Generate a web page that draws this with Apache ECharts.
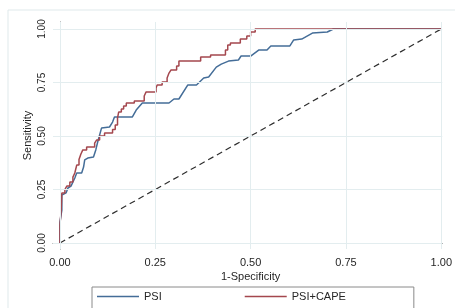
<!DOCTYPE html>
<html>
<head>
<meta charset="utf-8">
<script src="https://cdn.jsdelivr.net/npm/echarts@6/dist/echarts.min.js"></script>
<style>
  html, body { margin: 0; padding: 0; background: #fff; }
  #chart { width: 455px; height: 308px; }
</style>
</head>
<body>
<div id="chart"></div>
<script>
// tick values shared by both axes
var ticks = [0, 0.25, 0.5, 0.75, 1]

// PSI roc curve (1-specificity, sensitivity)
var psiFpr = [0, 0, 0.005, 0.005, 0.016, 0.021, 0.029, 0.039, 0.044, 0.057, 0.062, 0.065, 0.073, 0.088,
  0.094, 0.099, 0.109, 0.130, 0.138, 0.143, 0.190, 0.200, 0.216, 0.286, 0.299, 0.312, 0.335, 0.358,
  0.377, 0.390, 0.410, 0.423, 0.442, 0.468, 0.475, 0.501, 0.522, 0.543, 0.553, 0.603, 0.613, 0.634,
  0.662, 0.701, 0.717, 1]
var psiTpr = [0, 0.098, 0.154, 0.224, 0.234, 0.257, 0.266, 0.304, 0.327, 0.327, 0.355, 0.388, 0.397, 0.402,
  0.435, 0.472, 0.537, 0.542, 0.565, 0.589, 0.589, 0.621, 0.654, 0.654, 0.673, 0.673, 0.738, 0.738,
  0.771, 0.776, 0.822, 0.836, 0.850, 0.855, 0.874, 0.874, 0.902, 0.902, 0.921, 0.921, 0.949, 0.953,
  0.981, 0.986, 1, 1]

// PSI+CAPE roc curve
var capeFpr = [0, 0, 0.003, 0.003, 0.005, 0.005, 0.013, 0.013, 0.018, 0.018, 0.026, 0.026, 0.034, 0.034,
  0.039, 0.039, 0.044, 0.044, 0.050, 0.050, 0.055, 0.055, 0.060, 0.060, 0.070, 0.070, 0.091, 0.091,
  0.096, 0.096, 0.104, 0.104, 0.117, 0.117, 0.138, 0.138, 0.145, 0.145, 0.151, 0.151, 0.154, 0.154,
  0.161, 0.161, 0.167, 0.167, 0.174, 0.174, 0.195, 0.195, 0.221, 0.221, 0.226, 0.226, 0.252, 0.252,
  0.255, 0.255, 0.268, 0.268, 0.281, 0.281, 0.286, 0.286, 0.291, 0.291, 0.306, 0.306, 0.312, 0.312,
  0.369, 0.369, 0.395, 0.395, 0.434, 0.434, 0.440, 0.440, 0.447, 0.447, 0.473, 0.473, 0.490, 0.490,
  0.500, 0.500, 0.512, 0.512, 1]
var capeTpr = [0, 0.084, 0.084, 0.145, 0.145, 0.234, 0.234, 0.250, 0.250, 0.266, 0.266, 0.285, 0.285, 0.308,
  0.308, 0.327, 0.327, 0.364, 0.364, 0.390, 0.390, 0.416, 0.416, 0.435, 0.435, 0.449, 0.449, 0.467,
  0.467, 0.481, 0.481, 0.500, 0.500, 0.514, 0.514, 0.530, 0.530, 0.551, 0.551, 0.584, 0.584, 0.612,
  0.612, 0.626, 0.626, 0.640, 0.640, 0.654, 0.654, 0.664, 0.664, 0.687, 0.687, 0.706, 0.706, 0.724,
  0.724, 0.738, 0.738, 0.752, 0.752, 0.771, 0.771, 0.794, 0.794, 0.808, 0.808, 0.827, 0.827, 0.850,
  0.850, 0.869, 0.869, 0.879, 0.879, 0.902, 0.902, 0.925, 0.925, 0.935, 0.935, 0.953, 0.953, 0.967,
  0.967, 0.986, 0.986, 1, 1]

// reference diagonal
var diagX = [0, 1]
var diagY = [0, 1]

function pairs(xs, ys) {
  return xs.map(function (x, i) { return [x, ys[i]] })
}

var gridColor = '#e3edef'
var axisColor = '#6b6b6b'
var textColor = '#262626'
var psiColor = '#446d98'
var capeColor = '#a4474e'
var lineIcon = 'path://M0,0H42V1.5H0Z'

var chart = echarts.init(document.getElementById('chart'), null, { renderer: 'canvas' })

chart.setOption({
  animation: false,
  textStyle: { fontFamily: 'Liberation Sans, Arial, sans-serif' },
  graphic: [{
    type: 'rect',
    shape: { x: 8, y: 10, width: 460, height: 320 },
    style: { fill: 'none', stroke: '#dfe9eb', lineWidth: 1 },
    silent: true,
    z: -1
  }],
  grid: { left: 53, right: 9, top: 22, bottom: 59 },
  xAxis: {
    type: 'value',
    min: -7 / 385,
    max: 1 + 1 / 385,
    name: '1-Specificity',
    nameLocation: 'middle',
    nameGap: 22,
    nameMoveOverlap: false,
    nameTextStyle: { fontSize: 11, color: textColor, padding: [0, 0, 0, 6] },
    axisLine: { show: true, lineStyle: { color: axisColor, width: 1 } },
    axisTick: { show: true, length: 5, customValues: ticks, lineStyle: { color: axisColor } },
    axisLabel: {
      customValues: ticks,
      fontSize: 11,
      color: textColor,
      margin: 8,
      formatter: function (v) { return v.toFixed(2) }
    },
    splitLine: { show: false }
  },
  yAxis: {
    type: 'value',
    min: -6 / 214,
    max: 1 + 7 / 214,
    name: 'Sensitivity',
    nameLocation: 'middle',
    nameGap: 20,
    nameMoveOverlap: false,
    nameTextStyle: { fontSize: 11, color: textColor },
    axisLine: { show: true, lineStyle: { color: axisColor, width: 1 } },
    axisTick: { show: true, length: 5, customValues: ticks, lineStyle: { color: axisColor } },
    axisLabel: {
      customValues: ticks,
      rotate: 90,
      fontSize: 10,
      color: textColor,
      margin: 6,
      formatter: function (v) { return v.toFixed(2) }
    },
    splitLine: { show: false }
  },
  legend: {
    data: [
      { name: 'PSI', icon: lineIcon },
      { name: 'PSI+CAPE', icon: lineIcon }
    ],
    left: 92,
    top: 287,
    itemWidth: 42,
    itemHeight: 14,
    itemGap: 83,
    padding: [4, 68, 12, 5],
    borderColor: '#8a8a8a',
    borderWidth: 1,
    backgroundColor: '#fff',
    textStyle: { fontSize: 11, color: textColor }
  },
  series: [
    {
      name: 'grid',
      type: 'line',
      data: [],
      silent: true,
      z: 0,
      markLine: {
        silent: true,
        symbol: 'none',
        label: { show: false },
        lineStyle: { color: gridColor, width: 1, type: 'solid' },
        data: ticks.map(function (t) { return { xAxis: t } })
          .concat(ticks.map(function (t) { return { yAxis: t } }))
      }
    },
    {
      name: 'PSI',
      type: 'line',
      symbol: 'none',
      data: pairs(psiFpr, psiTpr),
      lineStyle: { color: psiColor, width: 1.5 },
      itemStyle: { color: psiColor },
      z: 3
    },
    {
      name: 'PSI+CAPE',
      type: 'line',
      symbol: 'none',
      data: pairs(capeFpr, capeTpr),
      lineStyle: { color: capeColor, width: 1.5 },
      itemStyle: { color: capeColor },
      z: 4
    },
    {
      name: 'diagonal',
      type: 'line',
      symbol: 'none',
      data: pairs(diagX, diagY),
      lineStyle: { color: '#2e2e2e', width: 1.2, type: [6, 4] },
      z: 2
    }
  ]
})
</script>
</body>
</html>
